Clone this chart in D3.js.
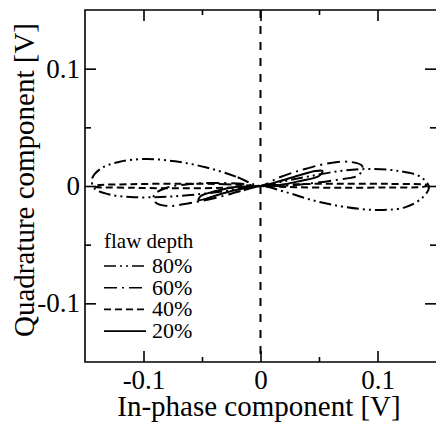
<!DOCTYPE html>
<html>
<head>
<meta charset="utf-8">
<script src="https://cdn.jsdelivr.net/npm/d3@7"></script>
<style>
  body { margin: 0; background: #fff; }
  text { font-family: "Liberation Serif", "DejaVu Serif", serif; fill: #000; }
</style>
</head>
<body>
<div id="chart"></div>
<script>
// tick values
var majorTicks = [-0.1, 0, 0.1];
var minorTicks = [-0.05, 0.05];

// legend
var depthLabels = ["80%", "60%", "40%", "20%"];

// Lissajous traces, [in-phase, quadrature] in V
var trace80 = [[0, 0], [-0.021, 0.008], [-0.047, 0.016], [-0.073, 0.021], [-0.098, 0.023],
  [-0.121, 0.0205], [-0.137, 0.0145], [-0.144, 0.006], [-0.142, -0.002], [-0.130, -0.007],
  [-0.111, -0.0094], [-0.085, -0.0094], [-0.060, -0.0077], [-0.030, -0.0043], [0, 0],
  [0.021, -0.005], [0.047, -0.0128], [0.073, -0.018], [0.101, -0.0205], [0.124, -0.018],
  [0.138, -0.0103], [0.144, -0.001], [0.137, 0.0077], [0.118, 0.0128], [0.094, 0.0145],
  [0.068, 0.0128], [0.043, 0.0085], [0.021, 0.0043]];
var trace60 = [[0, 0], [-0.017, -0.0043], [-0.038, -0.010], [-0.060, -0.0145], [-0.079, -0.017],
  [-0.090, -0.0137], [-0.091, -0.0077], [-0.081, -0.0017], [-0.060, 0.0017], [-0.034, 0.0026],
  [-0.013, 0.0017], [0, 0], [0.017, 0.0077], [0.038, 0.0145], [0.060, 0.0197], [0.077, 0.0205],
  [0.087, 0.017], [0.084, 0.0094], [0.064, 0.0051], [0.038, 0.0017], [0.017, 0]];
var trace40 = [[0, 0], [-0.03, 0.0015], [-0.07, 0.002], [-0.11, 0.0015], [-0.14, 0.0005],
  [-0.142, -0.0005], [-0.11, -0.0015], [-0.07, -0.002], [-0.03, -0.0015], [0, 0],
  [0.03, 0.0015], [0.07, 0.002], [0.11, 0.0018], [0.142, 0.0008], [0.14, -0.0005],
  [0.11, -0.0012], [0.07, -0.0015], [0.03, -0.001]];
var trace20 = [[0, 0], [-0.017, -0.0026], [-0.034, -0.0068], [-0.047, -0.011], [-0.053, -0.012],
  [-0.051, -0.0085], [-0.038, -0.0043], [-0.021, -0.0009], [0, 0], [0.017, 0.0043],
  [0.034, 0.0094], [0.047, 0.0128], [0.053, 0.0128], [0.050, 0.0085], [0.034, 0.0043],
  [0.017, 0.0009]];

var traces = [trace80, trace60, trace40, trace20];
var dashes = ["12,4,2,4,2,4", "13,5,2,5", "7,4", null];

var svgWidth = 436;
var svgHeight = 435;
var margin = { top: 10, right: 0, bottom: 73, left: 85 };
var width = svgWidth - margin.left - margin.right;
var height = svgHeight - margin.top - margin.bottom;

var svg = d3.select("#chart")
  .append("svg")
  .attr("width", svgWidth)
  .attr("height", svgHeight);

var chartGroup = svg.append("g")
  .attr("transform", `translate(${margin.left}, ${margin.top})`);

var xScale = d3.scaleLinear().domain([-0.15, 0.15]).range([0, width]);
var yScale = d3.scaleLinear().domain([-0.15, 0.15]).range([height, 0]);

svg.append("defs").append("clipPath").attr("id", "plotclip")
  .append("rect").attr("width", width).attr("height", height);

// frame (right side falls off the picture)
chartGroup.append("path")
  .attr("d", `M${width},0H0V${height}H${width}`)
  .attr("fill", "none")
  .attr("stroke", "#000")
  .attr("stroke-width", 1.6);

function styleAxis(g) {
  g.select(".domain").remove();
  g.selectAll("line").attr("stroke", "#000").attr("stroke-width", 1.6);
  g.selectAll("text").attr("font-family", "Liberation Serif").attr("font-size", 27).attr("fill", "#000");
}
var fmt = d => d === 0 ? "0" : String(d);

// bottom
chartGroup.append("g").attr("transform", `translate(0, ${height})`)
  .call(d3.axisBottom(xScale).tickValues(majorTicks).tickSize(-11).tickPadding(8).tickFormat(fmt))
  .call(styleAxis);
chartGroup.append("g").attr("transform", `translate(0, ${height})`)
  .call(d3.axisBottom(xScale).tickValues(minorTicks).tickSize(-5).tickFormat(""))
  .call(styleAxis);
// top
chartGroup.append("g")
  .call(d3.axisTop(xScale).tickValues(majorTicks).tickSize(-11).tickFormat(""))
  .call(styleAxis);
chartGroup.append("g")
  .call(d3.axisTop(xScale).tickValues(minorTicks).tickSize(-5).tickFormat(""))
  .call(styleAxis);
// left
chartGroup.append("g")
  .call(d3.axisLeft(yScale).tickValues(majorTicks).tickSize(-11).tickPadding(5).tickFormat(fmt))
  .call(styleAxis);
chartGroup.append("g")
  .call(d3.axisLeft(yScale).tickValues(minorTicks).tickSize(-6).tickFormat(""))
  .call(styleAxis);
// right
chartGroup.append("g").attr("transform", `translate(${width}, 0)`)
  .call(d3.axisRight(yScale).tickValues(majorTicks).tickSize(-11).tickFormat(""))
  .call(styleAxis);
chartGroup.append("g").attr("transform", `translate(${width}, 0)`)
  .call(d3.axisRight(yScale).tickValues(minorTicks).tickSize(-6).tickFormat(""))
  .call(styleAxis);

var plot = chartGroup.append("g").attr("clip-path", "url(#plotclip)");

// dashed zero line
plot.append("line")
  .attr("x1", xScale(0)).attr("x2", xScale(0))
  .attr("y1", 0).attr("y2", height)
  .attr("stroke", "#000")
  .attr("stroke-width", 2)
  .attr("stroke-dasharray", "8,8");

var line = d3.line()
  .x(d => xScale(d[0]))
  .y(d => yScale(d[1]))
  .curve(d3.curveCatmullRomClosed.alpha(0.5));

plot.selectAll(".trace")
  .data(traces)
  .enter()
  .append("path")
  .attr("class", "trace")
  .attr("d", d => line(d))
  .attr("fill", "none")
  .attr("stroke", "#000")
  .attr("stroke-width", 2)
  .attr("stroke-dasharray", (d, i) => dashes[i]);

// legend
var legend = svg.append("g").attr("transform", "translate(104, 248)");
legend.append("text")
  .attr("x", 0).attr("y", 0)
  .attr("font-size", 21)
  .text("flaw depth");
var rows = legend.selectAll(".row")
  .data(depthLabels)
  .enter()
  .append("g")
  .attr("class", "row")
  .attr("transform", (d, i) => `translate(0, ${25 + i * 21.7})`);
rows.append("line")
  .attr("x1", 0).attr("x2", 42)
  .attr("y1", -7).attr("y2", -7)
  .attr("stroke", "#000")
  .attr("stroke-width", 1.6)
  .attr("stroke-dasharray", (d, i) => dashes[i]);
rows.append("text")
  .attr("x", 48).attr("y", 0)
  .attr("font-size", 22)
  .text(d => d);

// axis titles
svg.append("text")
  .attr("x", 259).attr("y", 416)
  .attr("text-anchor", "middle")
  .attr("font-size", 29)
  .text("In-phase component [V]");
svg.append("text")
  .attr("transform", "translate(34, 180) rotate(-90)")
  .attr("text-anchor", "middle")
  .attr("font-size", 29)
  .text("Quadrature component [V]");
</script>
</body>
</html>
